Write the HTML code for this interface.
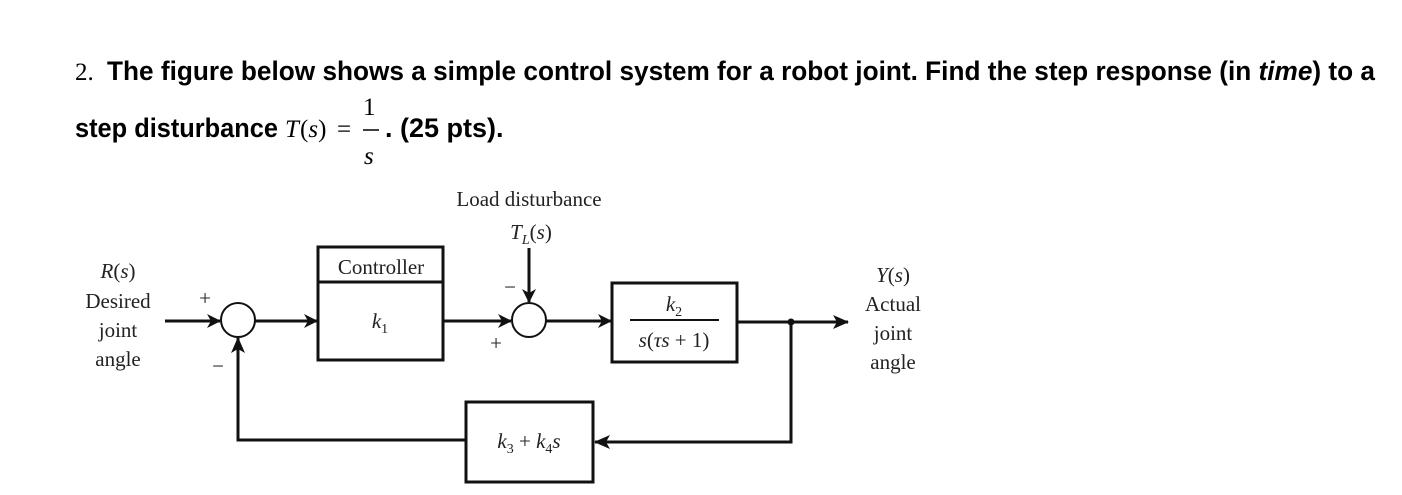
<!DOCTYPE html>
<html><head><meta charset="utf-8"><style>html,body{margin:0;padding:0;background:#fff;}svg{display:block}</style></head>
<body>
<svg width="1402" height="495" viewBox="0 0 1402 495" xmlns="http://www.w3.org/2000/svg">
<defs><marker id="a" markerWidth="14" markerHeight="14" refX="13" refY="7" orient="auto" markerUnits="userSpaceOnUse"><path d="M0,0 L14,7 L0,14 L4,7z" fill="#111"/></marker>
<marker id="b" markerWidth="16" markerHeight="14" refX="15" refY="7" orient="auto" markerUnits="userSpaceOnUse"><path d="M0,0 L16,7 L0,14 L4,7z" fill="#111"/></marker></defs>
<g font-family="Liberation Sans, sans-serif" font-weight="bold" font-size="27" fill="#000">
<text x="75" y="80" font-family="Liberation Serif, serif" font-weight="normal" font-size="25">2.</text>
<text x="107" y="80" textLength="1268" lengthAdjust="spacingAndGlyphs">The figure below shows a simple control system for a robot joint. Find the step response (in <tspan font-style="italic">time</tspan>) to a</text>
<text x="75" y="137" textLength="203" lengthAdjust="spacingAndGlyphs">step disturbance</text>
<text x="385" y="137">. (25 pts).</text>
</g>
<g font-family="Liberation Serif, serif" font-size="25" fill="#000">
<text x="285" y="137" font-style="italic">T</text><text x="300" y="137">(<tspan font-style="italic">s</tspan>)</text><text x="337" y="137">=</text>
<text x="363" y="115">1</text><line x1="363" y1="130" x2="379" y2="130" stroke="#000" stroke-width="1.5"/>
<text x="364" y="164" font-style="italic">s</text>
</g>
<g stroke="#111" stroke-width="3" fill="none">
<rect x="318" y="247" width="125" height="113"/><line x1="318" y1="282" x2="443" y2="282"/>
<rect x="612" y="283" width="125" height="79"/>
<rect x="466" y="402" width="127" height="80"/>
<circle cx="238" cy="320" r="17" stroke-width="2"/><circle cx="529" cy="320" r="17" stroke-width="2"/>
<line x1="165" y1="321" x2="220" y2="321" marker-end="url(#a)"/>
<line x1="255" y1="321" x2="317" y2="321" marker-end="url(#a)"/>
<line x1="443" y1="321" x2="511" y2="321" marker-end="url(#a)"/>
<line x1="546" y1="321" x2="611" y2="321" marker-end="url(#a)"/>
<line x1="529" y1="248" x2="529" y2="302" marker-end="url(#a)"/>
<line x1="737" y1="322" x2="848" y2="322" marker-end="url(#b)"/>
<polyline points="791,322 791,442 595,442" marker-end="url(#b)"/>
<polyline points="466,440 238,440 238,338" marker-end="url(#b)"/>
</g>
<circle cx="791" cy="322" r="3.5" fill="#111"/>
<g font-family="Liberation Serif, serif" font-size="21" fill="#222" text-anchor="middle">
<text x="381" y="274">Controller</text>
<text x="380" y="328" font-style="italic">k<tspan font-size="14" dy="5" font-style="normal">1</tspan></text>
<text x="674" y="311" font-style="italic">k<tspan font-size="14" dy="5" font-style="normal">2</tspan></text>
<line x1="630" y1="320" x2="719" y2="320" stroke="#111" stroke-width="2"/>
<text x="674" y="347"><tspan font-style="italic">s</tspan>(<tspan font-style="italic">τs</tspan> + 1)</text>
<text x="529" y="448"><tspan font-style="italic">k</tspan><tspan font-size="14" dy="5">3</tspan><tspan dy="-5"> + </tspan><tspan font-style="italic">k</tspan><tspan font-size="14" dy="5">4</tspan><tspan dy="-5" font-style="italic">s</tspan></text>
<text x="529" y="206">Load disturbance</text>
<text x="531" y="239" font-style="italic">T<tspan font-size="14" dy="5">L</tspan><tspan dy="-5" font-style="normal">(</tspan>s<tspan font-style="normal">)</tspan></text>
<text x="118" y="278" font-style="italic">R<tspan font-style="normal">(</tspan>s<tspan font-style="normal">)</tspan></text>
<text x="118" y="308">Desired</text><text x="118" y="337">joint</text><text x="118" y="366">angle</text>
<text x="893" y="282" font-style="italic">Y<tspan font-style="normal">(</tspan>s<tspan font-style="normal">)</tspan></text>
<text x="893" y="311">Actual</text><text x="893" y="340">joint</text><text x="893" y="369">angle</text>
<text x="205" y="305">+</text><text x="218" y="373">−</text>
<text x="510" y="294">−</text><text x="496" y="350">+</text>
</g>
</svg>
</body></html>
